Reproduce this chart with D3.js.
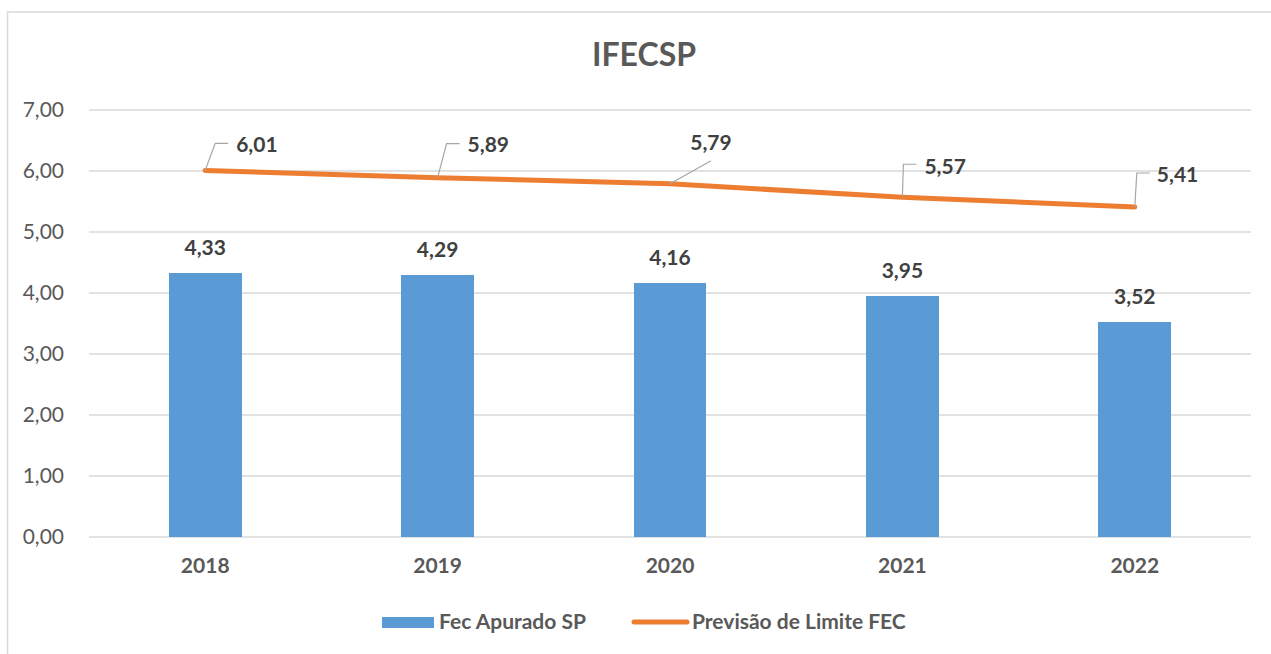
<!DOCTYPE html>
<html>
<head>
<meta charset="utf-8">
<script src="https://cdn.jsdelivr.net/npm/d3@7"></script>
<style>
  body { margin: 0; background: #fff; }
  svg text { font-family: Lato, "Open Sans", sans-serif; }
</style>
</head>
<body>
<div id="chart"></div>
<script>
var years = ["2018", "2019", "2020", "2021", "2022"];
var fecApurado = [4.33, 4.29, 4.16, 3.95, 3.52];
var limiteFec = [6.01, 5.89, 5.79, 5.57, 5.41];
var yTicks = [0, 1, 2, 3, 4, 5, 6, 7];
var seriesNames = ["Fec Apurado SP", "Previsão de Limite FEC"];

// label placement for line values (dx, dy from point, leader style)
var lineLabelPos = [
    {dx: 31, dy: -26, elbow: [10, -27], end: [23, -27], anchor: "start"},
    {dx: 30, dy: -33, elbow: [9, -34], end: [22, -34], anchor: "start"},
    {dx: 41, dy: -41, elbow: [41, -23], end: null, anchor: "middle"},
    {dx: 22, dy: -31, elbow: [1, -33], end: [14, -33], anchor: "start"},
    {dx: 22, dy: -32, elbow: [2, -34], end: [15, -34], anchor: "start"}
];

var width = 1271, height = 654;
var margin = {left: 89, right: 20, top: 110, bottom: 117};
var fs = 21;

var fmt = function(v) { return d3.format(".2f")(v).replace(".", ","); };

var svg = d3.select("#chart")
    .append("svg")
    .attr("width", width)
    .attr("height", height);

// chart border
svg.append("rect")
    .attr("x", 7.5)
    .attr("y", 12)
    .attr("width", width + 10)
    .attr("height", height + 10)
    .attr("fill", "none")
    .attr("stroke", "#d9d9d9")
    .attr("stroke-width", 1.5);

svg.append("text")
    .attr("x", 644)
    .attr("y", 66)
    .attr("text-anchor", "middle")
    .attr("font-size", 32)
    .attr("font-weight", "bold")
    .attr("fill", "#595959")
    .text("IFECSP");

let x = d3.scaleBand()
    .domain(years)
    .range([margin.left, 1251])
    .paddingInner(0.686)
    .paddingOuter(0.343);

let y = d3.scaleLinear()
    .domain([0, 7])
    .range([height - margin.bottom, margin.top]);

// gridlines
svg.append("g")
    .selectAll("line")
    .data(yTicks)
    .enter()
    .append("line")
    .attr("x1", margin.left)
    .attr("x2", 1251)
    .attr("y1", d => y(d))
    .attr("y2", d => y(d))
    .attr("stroke", "#d9d9d9")
    .attr("stroke-width", 1.5);

// y axis labels
let yAxis = svg.append("g")
    .attr("transform", "translate(" + (margin.left - 22) + ",0)")
    .call(d3.axisLeft(y).tickValues(yTicks).tickFormat(fmt).tickSize(0));
yAxis.select(".domain").remove();
yAxis.selectAll("text")
    .attr("font-size", fs)
    .attr("fill", "#595959")
    .attr("font-family", "Lato, sans-serif");

// x axis labels
let xAxis = svg.append("g")
    .attr("transform", "translate(0," + y(0) + ")")
    .call(d3.axisBottom(x).tickSize(0).tickPadding(21));
xAxis.select(".domain").remove();
xAxis.selectAll("text")
    .attr("font-size", fs)
    .attr("font-weight", "bold")
    .attr("fill", "#595959")
    .attr("font-family", "Lato, sans-serif");

// bars
svg.append("g")
    .selectAll("rect")
    .data(fecApurado)
    .enter()
    .append("rect")
    .attr("x", (d, i) => x(years[i]))
    .attr("y", d => y(d))
    .attr("width", x.bandwidth())
    .attr("height", d => y(0) - y(d))
    .attr("fill", "#5b9bd5")
    .attr("shape-rendering", "crispEdges");

svg.append("g")
    .selectAll("text")
    .data(fecApurado)
    .enter()
    .append("text")
    .attr("x", (d, i) => x(years[i]) + x.bandwidth() / 2)
    .attr("y", d => y(d) - 18)
    .attr("text-anchor", "middle")
    .attr("font-size", fs)
    .attr("font-weight", "bold")
    .attr("fill", "#404040")
    .text(fmt);

// line
let cx = (d, i) => x(years[i]) + x.bandwidth() / 2;
let line = d3.line()
    .x(cx)
    .y(d => y(d));

svg.append("path")
    .datum(limiteFec)
    .attr("d", line)
    .attr("fill", "none")
    .attr("stroke", "#ed7d31")
    .attr("stroke-width", 5)
    .attr("stroke-linecap", "round")
    .attr("stroke-linejoin", "round");

// leader lines and labels
let lbl = svg.append("g");
limiteFec.forEach(function(v, i) {
    let px = cx(v, i), py = y(v);
    let p = lineLabelPos[i];
    let pts = [[px, py], [px + p.elbow[0], py + p.elbow[1]]];
    if (p.end) pts.push([px + p.end[0], py + p.end[1]]);
    lbl.append("path")
        .attr("d", d3.line()(pts))
        .attr("fill", "none")
        .attr("stroke", "#a6a6a6")
        .attr("stroke-width", 1.2);
    lbl.append("text")
        .attr("x", px + p.dx)
        .attr("y", py + p.dy)
        .attr("dy", "0.35em")
        .attr("text-anchor", p.anchor)
        .attr("font-size", fs)
        .attr("font-weight", "bold")
        .attr("fill", "#404040")
        .text(fmt(v));
});

// legend
let leg = svg.append("g");
leg.append("rect")
    .attr("x", 382).attr("y", 617)
    .attr("width", 52).attr("height", 11)
    .attr("fill", "#5b9bd5");
leg.append("text")
    .attr("x", 439).attr("y", 629)
    .attr("font-size", fs)
    .attr("font-weight", "bold")
    .attr("fill", "#595959")
    .text(seriesNames[0]);
leg.append("line")
    .attr("x1", 634).attr("x2", 687)
    .attr("y1", 622).attr("y2", 622)
    .attr("stroke", "#ed7d31")
    .attr("stroke-width", 5)
    .attr("stroke-linecap", "round");
leg.append("text")
    .attr("x", 692).attr("y", 629)
    .attr("font-size", fs)
    .attr("font-weight", "bold")
    .attr("fill", "#595959")
    .text(seriesNames[1]);
</script>
</body>
</html>
